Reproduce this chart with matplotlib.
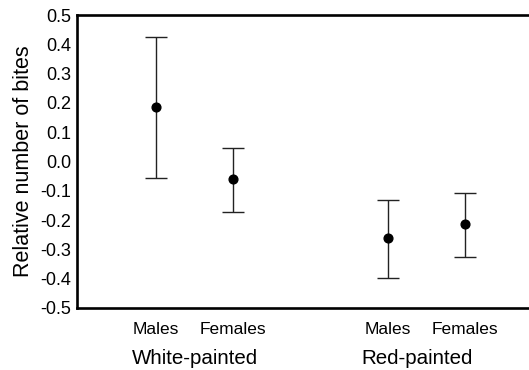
import numpy as np
import matplotlib
matplotlib.use('Agg')
import matplotlib.pyplot as plt
import matplotlib.transforms as mtransforms

plt.rcParams['font.family'] = ['Liberation Sans', 'DejaVu Sans']
plt.rcParams['axes.unicode_minus'] = False

# Data
groups = ['White-painted', 'Red-painted']
sexes = ['Males', 'Females', 'Males', 'Females']
positions = [0, 1, 3, 4]
group_positions = [0.5, 3.38]
means = [0.187, -0.060, -0.260, -0.215]
upper = [0.425, 0.045, -0.130, -0.106]
lower = [-0.058, -0.173, -0.397, -0.325]
yticks = [-0.5, -0.4, -0.3, -0.2, -0.1, 0.0, 0.1, 0.2, 0.3, 0.4, 0.5]
ytick_labels = ['-0.5', '-0.4', '-0.3', '-0.2', '-0.1', '0.0',
                '0.1', '0.2', '0.3', '0.4', '0.5']

means = np.array(means)
yerr = np.array([means - np.array(lower), np.array(upper) - means])

fig = plt.figure(figsize=(5.29, 3.70), dpi=100)
ax = fig.add_axes([77 / 529, 1 - 308 / 370, 1 - 77 / 529 + 0.01, 293 / 370])

ax.errorbar(positions, means, yerr=yerr, fmt='o', color='black',
            ecolor='#222222', elinewidth=1.0, capsize=8, capthick=1.0,
            markersize=6.3)

ax.set_xlim(-1.02, 4.89)
ax.set_ylim(-0.5, 0.5)
ax.set_yticks(yticks)
ax.set_yticklabels(ytick_labels)
ax.set_xticks(positions)
ax.set_xticklabels(sexes)
ax.tick_params(axis='y', length=0, pad=4, labelsize=13)
ax.tick_params(axis='x', length=0, pad=10, labelsize=12.5)

ax.set_ylabel('Relative number of bites', fontsize=15.5, labelpad=5)

trans = mtransforms.blended_transform_factory(ax.transData, ax.transAxes)
for g, gx in zip(groups, group_positions):
    ax.text(gx, -0.172, g, transform=trans, ha='center', va='center',
            fontsize=14.8)

for side in ['top', 'bottom', 'left']:
    ax.spines[side].set_linewidth(1.9)
ax.spines['right'].set_visible(False)

fig.savefig('out.png', dpi=100)
